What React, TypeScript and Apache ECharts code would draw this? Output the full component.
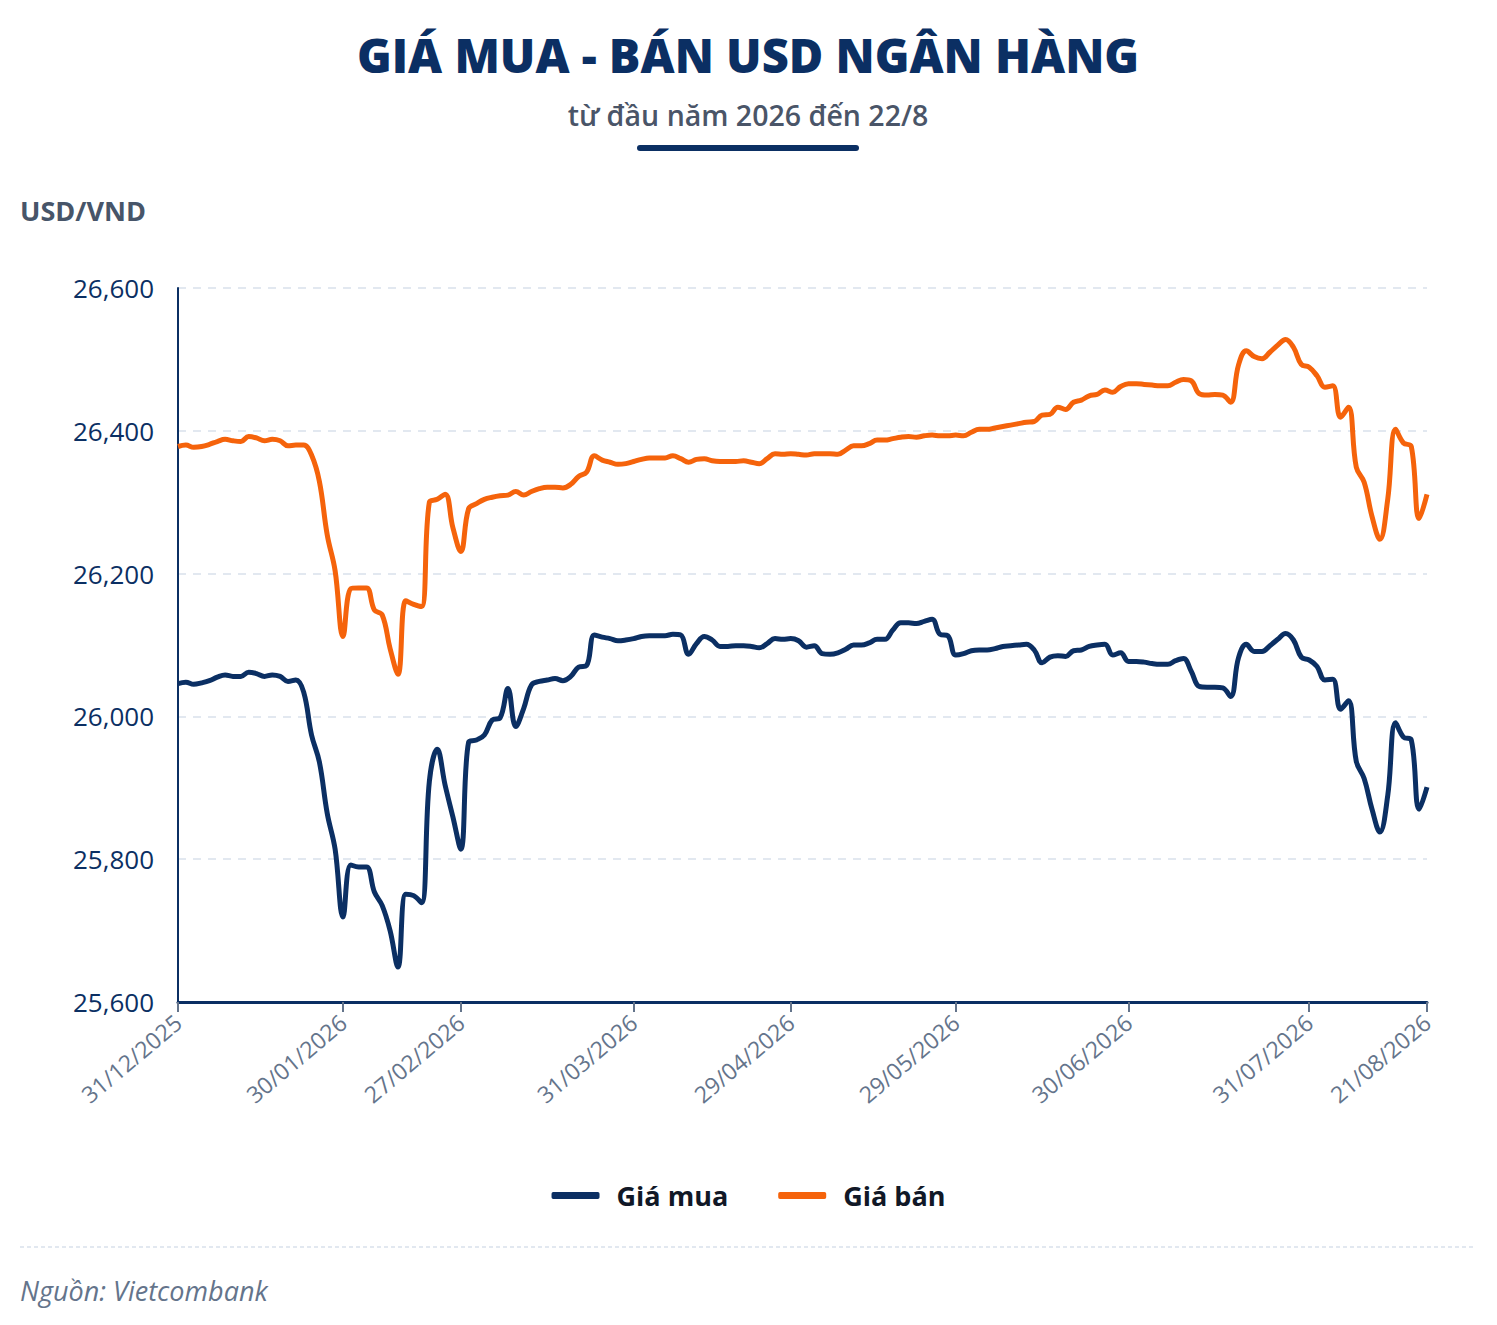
import React, { useEffect, useRef } from "react";
import * as echarts from "echarts";

// ---- Data ----
const holidays = ["2026-01-01", "2026-02-16", "2026-02-17", "2026-02-18", "2026-02-19", "2026-02-20", "2026-04-27", "2026-04-30"];
const startDate = "2025-12-31";
const endDate = "2026-08-21";

const tickLabels = [
  "31/12/2025", "30/01/2026", "27/02/2026", "31/03/2026", "29/04/2026",
  "29/05/2026", "30/06/2026", "31/07/2026", "21/08/2026",
];

const buyPrices = [
  26046, 26048, 26045, 26047, 26050, 26055, 26058, 26056, 26056, 26062,
  26060, 26056, 26058, 26056, 26049, 26051, 26034, 25974, 25936, 25864,
  25814, 25719, 25792, 25789, 25789, 25754, 25735, 25700, 25649, 25751,
  25749, 25739, 25909, 25954, 25904, 25859, 25814, 25964, 25967, 25974,
  25995, 25998, 26039, 25986, 26011, 26044, 26049, 26051, 26053, 26050,
  26056, 26069, 26071, 26114, 26111, 26109, 26106, 26107, 26109, 26112,
  26113, 26113, 26113, 26115, 26114, 26087, 26102, 26112, 26107, 26098,
  26098, 26099, 26099, 26098, 26096, 26102, 26109, 26108, 26109, 26106,
  26097, 26099, 26088, 26087, 26089, 26094, 26100, 26100, 26103, 26108,
  26108, 26121, 26131, 26131, 26130, 26133, 26136, 26115, 26113, 26086,
  26088, 26092, 26093, 26093, 26095, 26098, 26099, 26100, 26101, 26093,
  26075, 26083, 26085, 26084, 26092, 26093, 26098, 26100, 26101, 26086,
  26089, 26077, 26077, 26076, 26074, 26073, 26073, 26078, 26081, 26063,
  26042, 26041, 26041, 26040, 26028, 26082, 26101, 26091, 26091, 26099,
  26108, 26116, 26107, 26083, 26079, 26070, 26051, 26052, 26010, 26022,
  25937, 25913, 25870, 25838, 25889, 25991, 25971, 25967, 25870, 25901,
];

const sellPrices = [
  26378, 26380, 26377, 26378, 26381, 26385, 26388, 26386, 26385, 26392,
  26390, 26386, 26388, 26386, 26379, 26380, 26380, 26366, 26329, 26254,
  26204, 26112, 26179, 26180, 26180, 26149, 26142, 26095, 26059, 26162,
  26157, 26154, 26300, 26304, 26311, 26264, 26231, 26291, 26298, 26304,
  26307, 26309, 26310, 26315, 26310, 26315, 26319, 26321, 26321, 26320,
  26325, 26336, 26342, 26365, 26359, 26356, 26353, 26354, 26357, 26360,
  26362, 26362, 26362, 26365, 26361, 26356, 26360, 26361, 26358, 26357,
  26357, 26357, 26358, 26356, 26354, 26361, 26368, 26367, 26368, 26367,
  26366, 26368, 26368, 26368, 26367, 26373, 26379, 26379, 26382, 26387,
  26387, 26389, 26391, 26392, 26391, 26393, 26394, 26393, 26393, 26394,
  26393, 26398, 26402, 26402, 26404, 26406, 26408, 26410, 26412, 26413,
  26422, 26423, 26433, 26430, 26440, 26443, 26449, 26451, 26457, 26454,
  26462, 26466, 26466, 26465, 26464, 26463, 26463, 26468, 26472, 26470,
  26452, 26450, 26451, 26450, 26440, 26492, 26512, 26504, 26501, 26510,
  26520, 26528, 26517, 26493, 26489, 26477, 26461, 26463, 26419, 26433,
  26349, 26328, 26280, 26248, 26304, 26402, 26383, 26378, 26277, 26311,
];

// trading-day calendar (weekdays minus holidays)
function buildDates(): string[] {
  const out: string[] = [];
  const d = new Date(startDate + "T00:00:00Z");
  const end = new Date(endDate + "T00:00:00Z");
  while (d.getTime() <= end.getTime()) {
    const iso = d.toISOString().slice(0, 10);
    const wd = d.getUTCDay();
    if (wd !== 0 && wd !== 6 && !holidays.includes(iso)) {
      const [y, m, dd] = iso.split("-");
      out.push(`${dd}/${m}/${y}`);
    }
    d.setUTCDate(d.getUTCDate() + 1);
  }
  return out;
}
const dates = buildDates();

const NAVY = "#0b2f63";
const ORANGE = "#f5630b";
const FONT = "'Open Sans', 'Noto Sans', sans-serif";

export default function App() {
  const ref = useRef<HTMLDivElement>(null);
  useEffect(() => {
    if (!ref.current) return;
    const chart = echarts.init(ref.current, null, { renderer: "svg" });
    const showTick = (idx: number) => tickLabels.includes(dates[idx]);
    chart.setOption({
      animation: false,
      backgroundColor: "#ffffff",
      textStyle: { fontFamily: FONT },
      grid: { left: 178, right: 70, top: 288, bottom: 323, containLabel: false },
      legend: {
        top: 1177,
        left: "center",
        icon: "roundRect",
        itemWidth: 48,
        itemHeight: 7,
        itemGap: 50,
        textStyle: { fontFamily: FONT, fontSize: 27, fontWeight: "bold", color: "#111827", padding: [0, 0, 0, 12] },
        data: ["Giá mua", "Giá bán"],
      },
      xAxis: {
        type: "category",
        data: dates,
        boundaryGap: false,
        axisLine: { show: true, lineStyle: { color: NAVY, width: 3 } },
        axisTick: { show: true, interval: (i: number) => showTick(i), length: 10, lineStyle: { color: "#64748b", width: 2 } },
        axisLabel: {
          interval: (i: number) => showTick(i),
          rotate: 40,
          color: "#64748b",
          fontSize: 23,
          fontWeight: 500,
          fontFamily: FONT,
          margin: 17,
        },
        splitLine: { show: false },
      },
      yAxis: {
        type: "value",
        min: 25600,
        max: 26600,
        interval: 200,
        axisLine: { show: true, lineStyle: { color: NAVY, width: 2 } },
        axisTick: { show: false },
        axisLabel: {
          color: NAVY,
          fontSize: 26,
          fontWeight: 500,
          fontFamily: FONT,
          margin: 24,
          formatter: (v: number) => v.toLocaleString("en-US"),
        },
        splitLine: { show: true, lineStyle: { color: "#e2e8f0", width: 2, type: [8, 7] } },
      },
      series: [
        {
          name: "Giá mua",
          type: "line",
          data: buyPrices,
          smooth: 0.4,
          showSymbol: false,
          symbol: "none",
          lineStyle: { color: NAVY, width: 5 },
          itemStyle: { color: NAVY },
        },
        {
          name: "Giá bán",
          type: "line",
          data: sellPrices,
          smooth: 0.4,
          showSymbol: false,
          symbol: "none",
          lineStyle: { color: ORANGE, width: 5 },
          itemStyle: { color: ORANGE },
        },
      ],
      graphic: [
        {
          type: "text",
          x: 748,
          y: 55,
          style: {
            text: "GIÁ MUA - BÁN USD NGÂN HÀNG",
            fill: NAVY,
            font: `800 47px ${FONT}`,
            textAlign: "center",
            textVerticalAlign: "middle",
          },
        },
        {
          type: "text",
          x: 748,
          y: 115,
          style: {
            text: "từ đầu năm 2026 đến 22/8",
            fill: "#4a5568",
            font: `600 28.5px ${FONT}`,
            textAlign: "center",
            textVerticalAlign: "middle",
          },
        },
        {
          type: "rect",
          shape: { x: 637, y: 145, width: 222, height: 6, r: 3 },
          style: { fill: NAVY },
        },
        {
          type: "text",
          x: 20,
          y: 210,
          style: {
            text: "USD/VND",
            fill: "#475569",
            font: `bold 27px ${FONT}`,
            textAlign: "left",
            textVerticalAlign: "middle",
          },
        },
        {
          type: "line",
          shape: { x1: 20, y1: 1247, x2: 1475, y2: 1247 },
          style: { stroke: "#e2e8f0", lineWidth: 2, lineDash: [4, 3] },
        },
        {
          type: "text",
          x: 20,
          y: 1290,
          style: {
            text: "Nguồn: Vietcombank",
            fill: "#64748b",
            font: `italic 27px ${FONT}`,
            textAlign: "left",
            textVerticalAlign: "middle",
          },
        },
      ],
    });
    return () => chart.dispose();
  }, []);
  return (
    <div
      ref={ref}
      style={{ position: "absolute", left: 0, top: 0, width: 1497, height: 1325, background: "#fff" }}
    />
  );
}
